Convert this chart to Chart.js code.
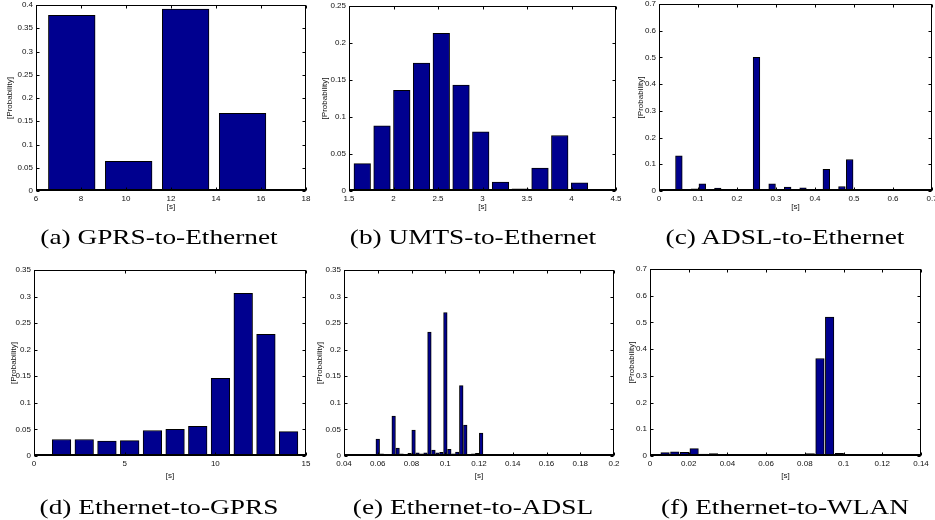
<!DOCTYPE html>
<html>
<head>
<meta charset="utf-8">
<script src="https://cdn.jsdelivr.net/npm/chart.js@4.4.0/dist/chart.umd.min.js"></script>
<style>
  html, body { margin: 0; padding: 0; background: #fff; }
  #fig { position: relative; width: 935px; height: 520px; overflow: hidden; }
  #fig canvas { position: absolute; left: 0; top: 0; }
  .cap {
    position: absolute; width: 320px; text-align: center;
    font-family: "Liberation Serif", serif; font-size: 21px; line-height: 24px;
    color: #000; white-space: nowrap;
    transform: scaleX(1.3); transform-origin: center;
  }
</style>
</head>
<body>
<div id="fig">
  <canvas id="pA" width="935" height="520"></canvas>
  <canvas id="pB" width="935" height="520"></canvas>
  <canvas id="pC" width="935" height="520"></canvas>
  <canvas id="pD" width="935" height="520"></canvas>
  <canvas id="pE" width="935" height="520"></canvas>
  <canvas id="pF" width="935" height="520"></canvas>
  <div class="cap" style="left:-1px;top:225px">(a) GPRS-to-Ethernet</div>
  <div class="cap" style="left:313px;top:225px">(b) UMTS-to-Ethernet</div>
  <div class="cap" style="left:625px;top:225px">(c) ADSL-to-Ethernet</div>
  <div class="cap" style="left:-1px;top:495px">(d) Ethernet-to-GPRS</div>
  <div class="cap" style="left:313px;top:495px">(e) Ethernet-to-ADSL</div>
  <div class="cap" style="left:625px;top:495px">(f) Ethernet-to-WLAN</div>
</div>
<script>
// =========================
// DATA (bin centres [s] / probability)
// =========================
const gprsEthX = [7.59, 10.12, 12.65, 15.18];
const gprsEthY = [0.378, 0.064, 0.391, 0.167];

const umtsEthX = [1.649, 1.871, 2.093, 2.315, 2.537, 2.759, 2.98, 3.202, 3.424, 3.646, 3.868, 4.09];
const umtsEthY = [0.037, 0.088, 0.136, 0.173, 0.213, 0.143, 0.08, 0.012, 0.003, 0.031, 0.075, 0.011];

const adslEthX = [0.051, 0.071, 0.091, 0.111, 0.131, 0.151, 0.17, 0.19, 0.21, 0.23, 0.25, 0.27,
  0.29, 0.31, 0.33, 0.35, 0.369, 0.389, 0.409, 0.429, 0.449, 0.469, 0.489, 0.509, 0.529,
  0.549, 0.568, 0.588, 0.608, 0.628, 0.648];
const adslEthY = [0.132, 0, 0.008, 0.027, 0.006, 0.011, 0.004, 0.004, 0.002, 0.001, 0.5, 0.006,
  0.027, 0.002, 0.015, 0.001, 0.012, 0.002, 0.001, 0.081, 0.001, 0.017, 0.118, 0.004, 0.001,
  0.001, 0.001, 0.001, 0.002, 0.001, 0.001];

const ethGprsX = [1.52, 2.77, 4.02, 5.28, 6.53, 7.78, 9.03, 10.28, 11.54, 12.79, 14.04];
const ethGprsY = [0.031, 0.031, 0.028, 0.029, 0.048, 0.05, 0.056, 0.146, 0.306, 0.229, 0.046];

const ethAdslX = [0.0506, 0.0529, 0.0553, 0.0576, 0.06, 0.0624, 0.0647, 0.0671, 0.0694, 0.0718,
  0.0741, 0.0765, 0.0789, 0.0812, 0.0836, 0.0859, 0.0883, 0.0906, 0.093, 0.0954, 0.0977,
  0.1001, 0.1024, 0.1048, 0.1071, 0.1095, 0.1119, 0.1142, 0.1166, 0.1189, 0.1213, 0.1236,
  0.126, 0.1284, 0.1307, 0.1331, 0.1354, 0.1378, 0.1401];
const ethAdslY = [0.001, 0, 0, 0, 0.032, 0.004, 0.001, 0.001, 0.075, 0.015, 0.004, 0.001,
  0.005, 0.049, 0.006, 0.004, 0.006, 0.233, 0.011, 0.006, 0.007, 0.27, 0.0125, 0.004,
  0.0075, 0.1325, 0.058, 0.0025, 0.004, 0.005, 0.043, 0.002, 0.001, 0.003, 0.002, 0.001,
  0, 0.0005, 0.001];

const ethWlanX = [0.0078, 0.0128, 0.0178, 0.0228, 0.0278, 0.0328, 0.0378, 0.0428, 0.0478,
  0.0528, 0.0578, 0.0628, 0.0678, 0.0728, 0.0778, 0.0828, 0.0878, 0.0928, 0.0978, 0.1028,
  0.1078, 0.1128, 0.1178, 0.1228, 0.1278, 0.1328];
const ethWlanY = [0.0125, 0.016, 0.014, 0.0275, 0.0075, 0.009, 0.001, 0, 0, 0, 0, 0, 0, 0,
  0.001, 0.009, 0.365, 0.52, 0.01, 0.001, 0, 0, 0, 0, 0, 0];

// axis ranges / tick steps
const xRanges = { a: [6, 18, 2], b: [1.5, 4.5, 0.5], c: [0, 0.7, 0.1], d: [0, 15, 5], e: [0.04, 0.2, 0.02], f: [0, 0.14, 0.02] };
const yRanges = { a: [0, 0.4, 0.05], b: [0, 0.25, 0.05], c: [0, 0.7, 0.1], d: [0, 0.35, 0.05], e: [0, 0.35, 0.05], f: [0, 0.7, 0.1] };

// =========================
// LAYOUT (plot box, label spots)
// =========================
const W = 935, H = 520;
const TICK = 3;
const panels = [
  { id: "pA", k: "a", xs: gprsEthX, ys: gprsEthY, box: [36, 5, 306, 191], yTitleX: 10, xTitleY: 207, bar: 0.82 },
  { id: "pB", k: "b", xs: umtsEthX, ys: umtsEthY, box: [349, 6, 616, 191], yTitleX: 325, xTitleY: 207, bar: 0.84 },
  { id: "pC", k: "c", xs: adslEthX, ys: adslEthY, box: [659, 4, 932, 191], yTitleX: 641, xTitleY: 207, bar: 0.86 },
  { id: "pD", k: "d", xs: ethGprsX, ys: ethGprsY, box: [34, 270, 306, 456], yTitleX: 13.5, xTitleY: 476, bar: 0.82 },
  { id: "pE", k: "e", xs: ethAdslX, ys: ethAdslY, box: [344, 270, 614, 456], yTitleX: 320, xTitleY: 476, bar: 0.9 },
  { id: "pF", k: "f", xs: ethWlanX, ys: ethWlanY, box: [650, 269, 921, 456], yTitleX: 632, xTitleY: 476, bar: 0.88 },
];

const fmt = (v) => String(parseFloat(Number(v).toFixed(4)));

// matlab style box with inward ticks on all four sides
const frameTicks = {
  id: "frameTicks",
  afterDatasetsDraw(chart) {
    const { ctx, chartArea: a, scales } = chart;
    const L = Math.round(a.left) + 0.5, R = Math.round(a.right) - 0.5;
    const T = Math.round(a.top) + 0.5, B = Math.round(a.bottom) - 0.5;
    ctx.save();
    ctx.strokeStyle = "#000";
    ctx.lineWidth = 1;
    ctx.beginPath();
    scales.x.ticks.forEach((t) => {
      const px = Math.round(scales.x.getPixelForValue(t.value)) + 0.5;
      ctx.moveTo(px, B); ctx.lineTo(px, B - TICK);
      ctx.moveTo(px, T); ctx.lineTo(px, T + TICK);
    });
    scales.y.ticks.forEach((t) => {
      const py = Math.round(scales.y.getPixelForValue(t.value)) + 0.5;
      ctx.moveTo(L, py); ctx.lineTo(L + TICK, py);
      ctx.moveTo(R, py); ctx.lineTo(R - TICK, py);
    });
    ctx.stroke();
    ctx.strokeRect(L, T, R - L, B - T);
    // bar baseline is a touch heavier
    ctx.lineWidth = 2;
    ctx.beginPath();
    ctx.moveTo(L, B - 0.5); ctx.lineTo(R, B - 0.5);
    ctx.stroke();
    ctx.restore();
  },
};

Chart.defaults.font.family = "'Liberation Sans', Arial, sans-serif";
Chart.defaults.font.size = 8;
Chart.defaults.color = "#111";

panels.forEach((p) => {
  const [left, top, right, bottom] = p.box;
  const yW = left - p.yTitleX + 4;
  const xH = p.xTitleY + 4 - bottom;
  const [xMin, xMax, xStep] = xRanges[p.k];
  const [yMin, yMax, yStep] = yRanges[p.k];

  new Chart(document.getElementById(p.id), {
    type: "bar",
    data: {
      datasets: [{
        data: p.xs.map((x, i) => ({ x, y: p.ys[i] })),
        backgroundColor: "#00008F",
        borderColor: "#000",
        borderWidth: 1,
        barThickness: "flex",
        categoryPercentage: 1,
        barPercentage: p.bar,
      }],
    },
    options: {
      responsive: false,
      animation: false,
      events: [],
      layout: { padding: { left: left - yW, top, right: W - right, bottom: H - bottom - xH } },
      plugins: { legend: { display: false }, tooltip: { enabled: false } },
      scales: {
        x: {
          type: "linear",
          offset: false,
          min: xMin, max: xMax,
          grid: { display: false, drawTicks: false },
          border: { display: false },
          ticks: { stepSize: xStep, padding: 4, maxRotation: 0, autoSkip: false, font: { size: 8, lineHeight: 1 }, callback: fmt },
          title: { display: true, text: "[s]", padding: 0, font: { size: 8, lineHeight: 1 } },
          afterFit: (s) => { s.height = xH; s.paddingLeft = 0; s.paddingRight = 0; },
        },
        y: {
          min: yMin, max: yMax,
          grid: { display: false, drawTicks: false },
          border: { display: false },
          ticks: { stepSize: yStep, padding: 3, autoSkip: false, font: { size: 8, lineHeight: 1 }, callback: fmt },
          title: { display: true, text: "[Probability]", padding: 0, font: { size: 8, lineHeight: 1 } },
          afterFit: (s) => { s.width = yW; s.paddingTop = 0; s.paddingBottom = 0; },
        },
      },
    },
    plugins: [frameTicks],
  });
});
</script>
</body>
</html>
